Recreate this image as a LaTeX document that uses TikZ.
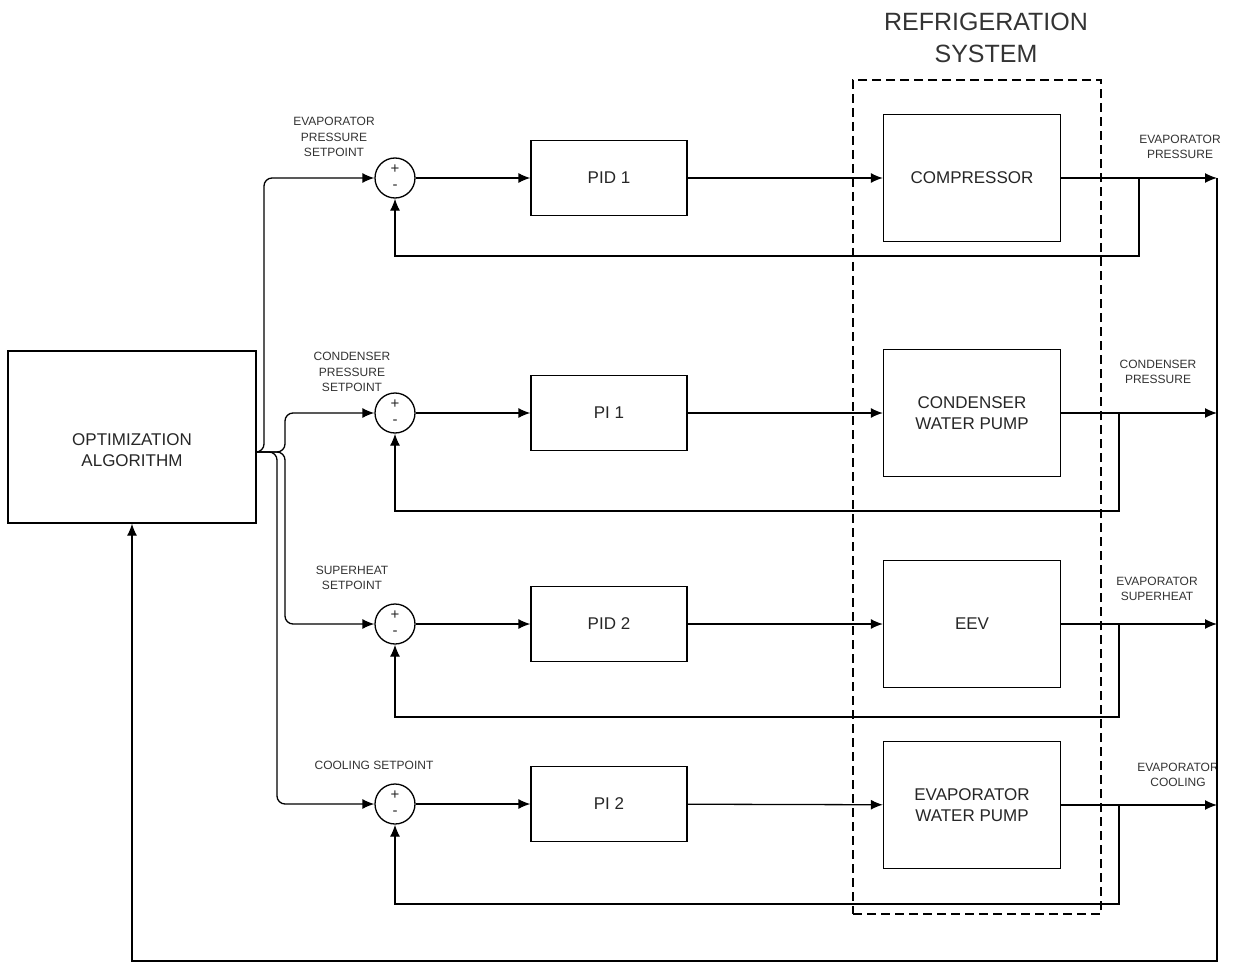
\documentclass[tikz,border=0pt]{standalone}
\usepackage{fontspec}
\setmainfont{Liberation Sans}
\usetikzlibrary{arrows.meta, positioning}
\tikzset{%
    >={Latex[width=10pt,length=12pt]},
    linha/.style    = {line width=1.3pt},
    bloco/.style    = {rectangle, draw=black, line width=1.3pt, text=black!85,
                       minimum width=156pt, minimum height=75pt, inner sep=2pt,
                       align=center, font=\fontsize{17}{21}\selectfont},
    planta/.style   = {bloco, minimum width=177pt, minimum height=127pt},
    somador/.style  = {circle, draw=black, line width=1.3pt, minimum size=40pt, inner sep=0pt},
    sinal/.style    = {inner sep=0pt, text=black!85, font=\fontsize{15}{15}\selectfont},
    rotulo/.style   = {align=center, inner sep=0pt, text=black!80,
                       font=\fontsize{12}{15.5}\selectfont},
}
\begin{document}
\begin{tikzpicture}[x=1pt, y=-1pt, every path/.style={linha}]
    \useasboundingbox (0,0) rectangle (1235,963);

    % otimizador e sistema de refrigeracao
    \node (opt)     [bloco, minimum width=248pt, minimum height=172pt,
                     label={[align=center, text=black!85, font=\fontsize{17}{21}\selectfont,
                             yshift=-13pt]center:OPTIMIZATION\\ALGORITHM}] at (132,437) {};
    \node (sistema) [draw, dash pattern=on 9pt off 5pt, minimum width=248pt, minimum height=834pt] at (977,497) {};
    \node (titulo)  [rotulo, font=\fontsize{25}{32}\selectfont] at (986,38) {REFRIGERATION\\SYSTEM};

    % somadores
    \node (s1) [somador] at (395,178) {};
    \node (s2) [somador] at (395,413) {};
    \node (s3) [somador] at (395,624) {};
    \node (s4) [somador] at (395,804) {};
    \node [sinal] at ([yshift=9pt]s1.center) {+};   \node [sinal] at ([yshift=-9pt]s1.center) {-};
    \node [sinal] at ([yshift=9pt]s2.center) {+};   \node [sinal] at ([yshift=-9pt]s2.center) {-};
    \node [sinal] at ([yshift=9pt]s3.center) {+};   \node [sinal] at ([yshift=-9pt]s3.center) {-};
    \node [sinal] at ([yshift=9pt]s4.center) {+};   \node [sinal] at ([yshift=-9pt]s4.center) {-};

    % controladores
    \node (c1) [bloco] at (609,178) {PID 1};
    \node (c2) [bloco] at (609,413) {PI 1};
    \node (c3) [bloco] at (609,624) {PID 2};
    \node (c4) [bloco] at (609,804) {PI 2};

    % atuadores
    \node (p1) [planta] at (972,178) {COMPRESSOR};
    \node (p2) [planta] at (972,413) {CONDENSER\\WATER PUMP};
    \node (p3) [planta] at (972,624) {EEV};
    \node (p4) [planta] at (972,805) {EVAPORATOR\\WATER PUMP};

    % rotulos
    \node (l1) [rotulo] at (334,137)  {EVAPORATOR\\PRESSURE\\SETPOINT};
    \node (l2) [rotulo] at (352,372)  {CONDENSER\\PRESSURE\\SETPOINT};
    \node (l3) [rotulo] at (352,578)  {SUPERHEAT\\SETPOINT};
    \node (l4) [rotulo] at (374,765)  {COOLING SETPOINT};
    \node (m1) [rotulo] at (1180,147) {EVAPORATOR\\PRESSURE};
    \node (m2) [rotulo] at (1158,372) {CONDENSER\\PRESSURE};
    \node (m3) [rotulo] at (1157,589) {EVAPORATOR\\SUPERHEAT};
    \node (m4) [rotulo] at (1178,775) {EVAPORATOR\\COOLING};

    % pontos auxiliares
    \coordinate (saida) at (256,452);
    \coordinate (r1) at (264,178);
    \coordinate (r2) at (285,413);
    \coordinate (r3) at (285,624);
    \coordinate (r4) at (277,804);
    \coordinate (o1) at (1217,178);
    \coordinate (o2) at (1217,413);
    \coordinate (o3) at (1217,624);
    \coordinate (o4) at (1217,805);
    \coordinate (t1) at (1139,178);
    \coordinate (t2) at (1119,413);
    \coordinate (t3) at (1119,624);
    \coordinate (t4) at (1119,805);
    \coordinate (fim) at (1217,961);

    % setpoints
    \draw[->, rounded corners=8pt] (saida) -| (r1) -- (s1);
    \draw[->, rounded corners=8pt] (saida) -| (r2) -- (s2);
    \draw[->, rounded corners=8pt] (saida) -| (r3) -- (s3);
    \draw[->, rounded corners=8pt] (saida) -| (r4) -- (s4);

    % malhas
    \draw[->] (s1) -- (c1);
    \draw[->] (s2) -- (c2);
    \draw[->] (s3) -- (c3);
    \draw[->] (s4) -- (c4);
    \draw[->] (c1) -- (p1);
    \draw[->] (c2) -- (p2);
    \draw[->] (c3) -- (p3);
    \draw[->] (c4) -- (p4);
    \draw[->] (p1) -- (o1);
    \draw[->] (p2) -- (o2);
    \draw[->] (p3) -- (o3);
    \draw[->] (p4) -- (o4);

    % realimentacao
    \draw[->] (t1) -- ++(0,78)  -| (s1.south);
    \draw[->] (t2) -- ++(0,98)  -| (s2.south);
    \draw[->] (t3) -- ++(0,93)  -| (s3.south);
    \draw[->] (t4) -- ++(0,99)  -| (s4.south);
    \draw[->] (o1) -- (fim) -| (opt.south);
\end{tikzpicture}
\end{document}
